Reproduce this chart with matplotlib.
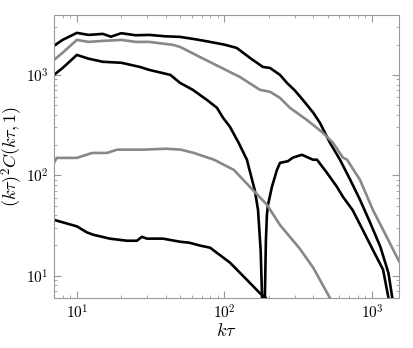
import numpy as np
import matplotlib.pyplot as plt

plt.rcParams['mathtext.fontset'] = 'cm'
plt.rcParams['font.family'] = 'serif'
plt.rcParams['font.serif'] = ['cmr10', 'DejaVu Serif']
plt.rcParams['axes.formatter.use_mathtext'] = True

# upper black curve
k_a = [7, 8, 10, 12, 15, 17, 20, 25, 31, 40, 50, 65, 80, 100, 121, 149, 182, 204, 238,
       265, 300, 340, 400, 444, 519, 607, 713, 830, 970, 1140, 1294, 1400]
c_a = [1950, 2230, 2620, 2500, 2560, 2400, 2600, 2480, 2500, 2420, 2390, 2250, 2130, 2000,
       1857, 1476, 1201, 1170, 1000, 833, 700, 564, 420, 333, 211, 143, 90, 57, 34, 19.4,
       10.6, 5]

# black curve with zero crossing
k_b = [7, 8, 10, 12, 15, 20, 26.7, 31, 43, 50, 61, 76, 89, 98, 109, 125, 142, 161, 169,
       176, 180, 184, 188, 191, 194, 197, 210, 227, 238, 269, 291, 335, 398, 424, 495,
       578, 636, 740, 865, 1016, 1189, 1294, 1350]
c_b = [1000, 1170, 1580, 1450, 1350, 1320, 1200, 1120, 1000, 833, 710, 564, 470, 373,
       304, 210, 143, 70, 45, 18, 6, 0.5, 6, 22, 40, 50, 77, 113, 133, 138, 150, 160, 143,
       143, 106, 77, 61, 45, 28.7, 18, 11.5, 6, 4]

# lower black curve
k_d = [7, 10, 11.7, 12.9, 16.7, 21.8, 25.5, 27.6, 29.8, 38.3, 50, 58, 68, 80, 109, 142,
       174, 191, 205]
c_d = [36, 31, 27, 25.6, 23.4, 22.3, 22.3, 24.4, 23.4, 23.4, 21.8, 21.3, 20, 19, 13.5,
       9.1, 6.7, 6, 5]

# upper gray curve
k_g1 = [7, 8, 10, 12, 15, 20, 25, 31, 44.8, 50, 68, 93, 127, 174, 204, 238, 278, 362,
        465, 544, 636, 678, 830, 1016, 1189, 1470, 1530]
c_g1 = [1409, 1660, 2230, 2130, 2180, 2230, 2130, 2130, 1990, 1900, 1510, 1200, 955, 710,
        678, 590, 470, 356, 265, 211, 150, 143, 90, 45, 28.7, 15.5, 13.9]

# lower gray curve
k_g2 = [7, 7.3, 10, 12.7, 16, 18.7, 28.4, 40, 50.7, 62, 85, 116, 155, 194, 238, 325,
        400, 519, 560]
c_g2 = [133, 149, 149, 167, 167, 180, 180, 184, 180, 167, 143, 113, 72, 51, 32, 18.5,
        12, 6, 5]

black = '#000000'
gray = '#888888'

fig = plt.figure(figsize=(4.13, 3.48), dpi=100)
ax = fig.add_axes([0.1308, 0.1437, 0.8352, 0.8133])

ax.plot(k_a, c_a, color=black, lw=1.9)
ax.plot(k_b, c_b, color=black, lw=1.9)
ax.plot(k_d, c_d, color=black, lw=1.9)
ax.plot(k_g1, c_g1, color=gray, lw=1.9)
ax.plot(k_g2, c_g2, color=gray, lw=1.9)

ax.set_xscale('log')
ax.set_yscale('log')
ax.set_xlim(7, 1524)
ax.set_ylim(6.0, 3950)

for s in ax.spines.values():
    s.set_color('#999999')
ax.tick_params(which='both', direction='in', top=True, right=True, color='#999999',
               labelsize=11, pad=4)
ax.tick_params(which='major', length=5)
ax.tick_params(which='minor', length=2.5)

ax.set_xlabel(r'$k\tau$', fontsize=13)
ax.set_ylabel(r'$(k\tau)^2C(k\tau,1)$', fontsize=13)
ax.xaxis.set_label_coords(0.5, -0.085)
ax.yaxis.set_label_coords(-0.085, 0.5)

fig.savefig('out.png', dpi=100)
